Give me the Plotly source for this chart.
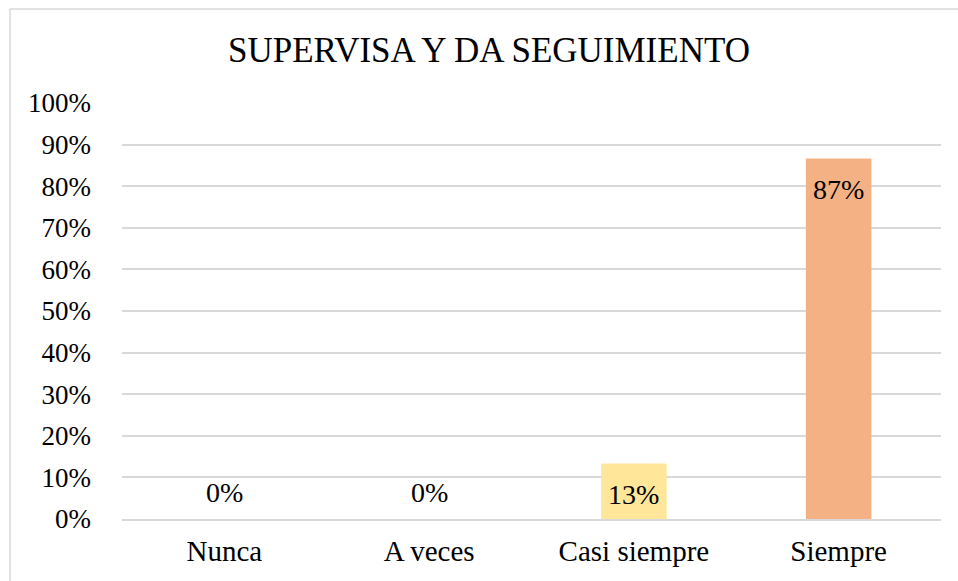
import plotly.graph_objects as go

categories = ["Nunca", "A veces", "Casi siempre", "Siempre"]
values = [0.0, 0.0, 0.1333, 0.8667]
labels = ["0%", "0%", "13%", "87%"]
colors = ["#5B9BD5", "#ED7D31", "#FFE699", "#F4B183"]
title_text = "SUPERVISA Y DA SEGUIMIENTO"
tick_vals = [i / 10 for i in range(11)]
tick_text = [f"{i*10}%" for i in range(11)]

FONT = "Liberation Serif, Times New Roman, serif"

W, H = 958, 581
L, T = 122, 103
R = W - 941
B = H - 519
pw, ph = W - L - R, H - T - B

fig = go.Figure()
fig.add_trace(go.Bar(
    x=categories, y=values,
    marker=dict(color=colors, line=dict(width=0)),
    hoverinfo="skip",
))

for c, v, t in zip(categories, values, labels):
    fig.add_annotation(
        x=c, y=v, xref="x", yref="y", text=t, showarrow=False,
        yanchor="middle", yshift=(-31 if v > 0 else 27),
        font=dict(family=FONT, size=28, color="#000000"),
    )

# chart frame (only left and top edges are within the picture)
fx0 = (10 - L) / pw
fy1 = (H - B - 9) / ph
fig.add_shape(type="line", xref="paper", yref="paper",
              x0=fx0, x1=fx0, y0=-(B + 5) / ph, y1=fy1,
              line=dict(color="#D9D9D9", width=1.5), layer="below")
fig.add_shape(type="line", xref="paper", yref="paper",
              x0=fx0, x1=(W + 5 - L) / pw, y0=fy1, y1=fy1,
              line=dict(color="#D9D9D9", width=1.5), layer="below")

fig.update_layout(
    width=W, height=H,
    margin=dict(l=L, r=R, t=T, b=B),
    paper_bgcolor="white", plot_bgcolor="white",
    showlegend=False,
    bargap=0.68,
    title=dict(
        text=title_text, x=489 / W, xanchor="center", xref="container",
        y=1 - 50 / H, yanchor="middle", yref="container",
        font=dict(family=FONT, size=35, color="#000000"),
    ),
    font=dict(family=FONT, color="#000000"),
)
fig.update_xaxes(
    showgrid=False, showline=True, linecolor="#D9D9D9", linewidth=1.5,
    ticks="", tickfont=dict(family=FONT, size=29, color="#000000"),
    ticklabelstandoff=5,
)
fig.update_yaxes(
    range=[0, 1], tickvals=tick_vals, ticktext=tick_text,
    showgrid=True, gridcolor="#D9D9D9", gridwidth=1.5,
    zeroline=False, showline=False, ticks="",
    tickfont=dict(family=FONT, size=27, color="#000000"),
    ticklabelstandoff=30,
)

fig.write_html(
    "out.html",
    config={"displayModeBar": False},
    post_script="document.body.style.margin='0';document.body.style.overflow='hidden';",
)
